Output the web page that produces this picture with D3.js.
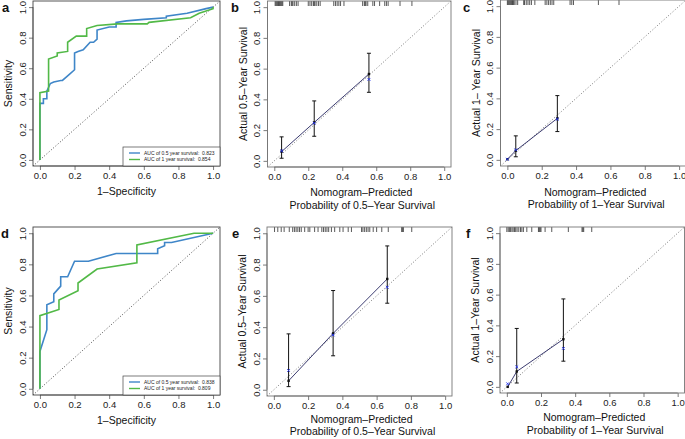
<!DOCTYPE html>
<html><head><meta charset="utf-8">
<script src="https://cdn.jsdelivr.net/npm/d3@7"></script>
<style>
html,body{margin:0;padding:0;background:#fff;}
svg{display:block;font-family:"Liberation Sans",Arial,Helvetica,sans-serif;}
</style></head>
<body>
<svg id="chart" width="685" height="439"></svg>
<script>
// ---------- DATA ----------
const tickValues = [0, 0.2, 0.4, 0.6, 0.8, 1.0];
const tickLabels = ["0.0", "0.2", "0.4", "0.6", "0.8", "1.0"];

// ROC panel a (training)
const rocA_fpr05 = [0,0,0.02,0.02,0.04,0.04,0.06,0.08,0.12,0.13,0.17,0.2,0.2,0.22,0.25,0.29,0.31,0.33,0.33,0.40,0.44,0.44,0.5,0.6,0.73,0.73,0.85,0.96,1];
const rocA_tpr05 = [0,0.37,0.37,0.40,0.40,0.45,0.50,0.51,0.52,0.52,0.56,0.59,0.70,0.71,0.72,0.77,0.77,0.79,0.85,0.87,0.87,0.90,0.91,0.92,0.93,0.94,0.96,0.99,1];
const rocA_fpr1 = [0,0,0.05,0.05,0.1,0.1,0.16,0.16,0.21,0.27,0.27,0.33,0.45,0.62,0.63,0.87,0.92,1,1];
const rocA_tpr1 = [0,0.44,0.45,0.66,0.68,0.70,0.71,0.77,0.81,0.81,0.86,0.88,0.89,0.89,0.90,0.93,0.96,0.99,1];
const aucA = ["0.823", "0.854"];

// ROC panel d (validation)
const rocD_fpr05 = [0,0,0.04,0.04,0.08,0.08,0.12,0.12,0.16,0.2,0.28,0.44,0.68,0.68,0.72,0.72,0.76,1];
const rocD_tpr05 = [0,0.24,0.38,0.54,0.56,0.61,0.66,0.72,0.72,0.82,0.82,0.87,0.87,0.90,0.92,0.94,0.94,1];
const rocD_fpr1 = [0,0,0.11,0.11,0.22,0.22,0.33,0.56,0.56,0.89,1];
const rocD_tpr1 = [0,0.47,0.51,0.57,0.63,0.68,0.77,0.81,0.925,1,1];
const aucD = ["0.838", "0.809"];

const legendLabels = ["AUC of 0.5 year survival:", "AUC of 1 year survival:"];

// Calibration panel b (0.5-year, training)
const calB_pred = [0.043, 0.235, 0.557];
const calB_obs  = [0.06, 0.25, 0.565];
const calB_km   = [0.065, 0.245, 0.53];
const calB_lo   = [0.017, 0.16, 0.446];
const calB_hi   = [0.156, 0.39, 0.70];
const calB_rug  = [0.005,0.01,0.015,0.02,0.025,0.03,0.035,0.04,0.045,0.05,0.09,0.1,0.105,0.11,0.12,0.13,0.14,0.2,0.21,0.22,0.23,0.235,0.24,0.25,0.26,0.27,0.35,0.36,0.37,0.38,0.39,0.41,0.52,0.53,0.535,0.54,0.55,0.58,0.59,0.62,0.65,0.66,0.67,0.74,0.81];

// Calibration panel c (1-year, training)
const calC_pred = [0.0, 0.049, 0.291];
const calC_obs  = [0.004, 0.06, 0.27];
const calC_km   = [0.004, 0.065, 0.265];
const calC_lo   = [null, 0.02, 0.184];
const calC_hi   = [null, 0.156, 0.418];
const calC_rug  = [0.0,0.005,0.01,0.015,0.02,0.025,0.03,0.035,0.04,0.05,0.06,0.095,0.1,0.11,0.12,0.13,0.14,0.16,0.22,0.23,0.24,0.25,0.26,0.27,0.365,0.375,0.385,0.53,0.65];

// Calibration panel e (0.5-year, validation)
const calE_pred = [0.086, 0.346, 0.662];
const calE_obs  = [0.057, 0.36, 0.708];
const calE_km   = [0.123, 0.35, 0.655];
const calE_lo   = [0.02, 0.217, 0.553];
const calE_hi   = [0.357, 0.634, 0.919];
const calE_rug  = [0.004,0.023,0.043,0.06,0.09,0.11,0.12,0.13,0.14,0.15,0.16,0.18,0.2,0.21,0.238,0.258,0.28,0.29,0.3,0.31,0.32,0.336,0.355,0.385,0.404,0.434,0.453,0.512,0.52,0.53,0.54,0.55,0.56,0.58,0.6,0.63,0.668,0.746,0.752,0.756,0.805];

// Calibration panel f (1-year, validation)
const calF_pred = [0.005, 0.058, 0.331];
const calF_obs  = [0.0, 0.1, 0.31];
const calF_km   = [0.02, 0.13, 0.25];
const calF_lo   = [null, 0.025, 0.167];
const calF_hi   = [null, 0.38, 0.572];
const calF_rug  = [0.0,0.008,0.015,0.022,0.03,0.037,0.045,0.052,0.06,0.07,0.08,0.088,0.097,0.117,0.146,0.185,0.19,0.195,0.2,0.224,0.263,0.36,0.44,0.445,0.45,0.497];

const yTitleB = "Actual 0.5\u2013Year Survival";
const yTitleC = "Actual 1\u2013 Year Survival";
const yTitleF = "Actual 1\u2013Year Survival";
const xTitle05 = ["Nomogram\u2013Predicted", "Probability of 0.5\u2013Year Survival"];
const xTitle1 = ["Nomogram\u2013Predicted", "Probability of 1\u2013Year Survival"];

// ---------- LAYOUT ----------
const svg = d3.select("#chart");
const BLUE = "#3f86c8", GREEN = "#52b947";

function makePanel(letter, box, letterPos) {
  const g = svg.append("g");
  const x = d3.scaleLinear().domain([-0.04, 1.04]).range([box.l, box.r]);
  const y = d3.scaleLinear().domain([-0.04, 1.04]).range([box.b, box.t]);
  const xa = g.append("g").attr("transform", `translate(0,${box.b})`)
    .call(d3.axisBottom(x).tickValues(tickValues).tickFormat((d,i)=>tickLabels[i]).tickSize(4));
  const ya = g.append("g").attr("transform", `translate(${box.l},0)`)
    .call(d3.axisLeft(y).tickValues(tickValues).tickFormat((d,i)=>tickLabels[i]).tickSize(4));
  [xa, ya].forEach(a => {
    a.select(".domain").remove();
    a.selectAll("line").attr("stroke", "#444").attr("stroke-width", 0.7);
    a.selectAll("text").attr("font-size", "9.5px").attr("fill", "#222")
      .attr("font-family", "Liberation Sans, Arial, sans-serif");
  });
  xa.selectAll("text").attr("y", 6.5).attr("dy", "0.71em");
  ya.selectAll("text").attr("transform", "rotate(-90)").attr("x", 0).attr("y", -7.5)
    .attr("dy", 0).attr("text-anchor", "middle");
  g.append("line").attr("x1", x(0)).attr("x2", x(1)).attr("y1", box.b).attr("y2", box.b)
    .attr("stroke", "#444").attr("stroke-width", 0.7);
  g.append("line").attr("y1", y(0)).attr("y2", y(1)).attr("x1", box.l).attr("x2", box.l)
    .attr("stroke", "#444").attr("stroke-width", 0.7);
  svg.append("text").attr("x", letterPos[0]).attr("y", letterPos[1]).text(letter)
    .attr("font-weight", "bold").attr("font-size", "13px").attr("fill", "#111");
  const cid = "clip" + letter;
  svg.append("clipPath").attr("id", cid).append("rect")
    .attr("x", box.l).attr("y", box.t).attr("width", box.r - box.l).attr("height", box.b - box.t);
  const plot = g.append("g").attr("clip-path", `url(#${cid})`);
  return {g, x, y, plot, box};
}

function drawBox(p, color) {
  p.g.append("rect").attr("x", p.box.l).attr("y", p.box.t)
    .attr("width", p.box.r - p.box.l).attr("height", p.box.b - p.box.t)
    .attr("fill", "none").attr("stroke", color).attr("stroke-width", 0.9);
}

function diag(p, color) {
  p.plot.append("line").attr("x1", p.x(-0.04)).attr("y1", p.y(-0.04))
    .attr("x2", p.x(1.04)).attr("y2", p.y(1.04))
    .attr("stroke", color).attr("stroke-width", 0.8).attr("stroke-dasharray", "1,2");
}

function yTitle(p, text) {
  const cy = (p.box.t + p.box.b) / 2;
  p.g.append("text").attr("transform", `translate(${p.box.l - 21},${cy}) rotate(-90)`)
    .attr("text-anchor", "middle").attr("font-size", "10.5px").attr("fill", "#111").text(text);
}

function xTitle(p, lines, y0, gap) {
  const cx = (p.x(0) + p.x(1)) / 2 + 2;
  lines.forEach((t, i) => {
    p.g.append("text").attr("x", cx + (i === 1 ? 1 : 0)).attr("y", p.box.b + y0 + i * gap)
      .attr("text-anchor", "middle").attr("font-size", "10.5px").attr("fill", "#111").text(t);
  });
}

function rocPanel(letter, box, letterPos, fpr05, tpr05, fpr1, tpr1, auc) {
  const p = makePanel(letter, box, letterPos);
  diag(p, "#222");
  const line = d3.line().x(d => p.x(d[0])).y(d => p.y(d[1]));
  p.plot.append("path").datum(fpr05.map((f, i) => [f, tpr05[i]])).attr("d", line)
    .attr("fill", "none").attr("stroke", BLUE).attr("stroke-width", 1.6);
  p.plot.append("path").datum(fpr1.map((f, i) => [f, tpr1[i]])).attr("d", line)
    .attr("fill", "none").attr("stroke", GREEN).attr("stroke-width", 1.6);
  drawBox(p, "#444");
  const lw = 97, lh = 19;
  const lx = box.r - lw, ly = box.b - lh;
  p.g.append("rect").attr("x", lx).attr("y", ly).attr("width", lw).attr("height", lh)
    .attr("fill", "#fff").attr("stroke", "#444").attr("stroke-width", 0.7);
  [BLUE, GREEN].forEach((c, i) => {
    const yy = ly + 6 + i * 6.5;
    p.g.append("line").attr("x1", lx + 6).attr("x2", lx + 17).attr("y1", yy).attr("y2", yy)
      .attr("stroke", c).attr("stroke-width", 1.4);
    p.g.append("text").attr("x", lx + 21).attr("y", yy + 1.8).attr("font-size", "5px")
      .attr("fill", "#222").attr("xml:space", "preserve")
      .text(legendLabels[i] + "  " + auc[i]);
  });
  yTitle(p, "Sensitivity");
  p.g.append("text").attr("x", (p.x(0) + p.x(1)) / 2).attr("y", box.b + 29)
    .attr("text-anchor", "middle").attr("font-size", "10.5px").attr("fill", "#111").text("1\u2013Specificity");
}

function calPanel(letter, box, letterPos, pred, obs, km, lo, hi, rug, yt, xt, ty0, tgap) {
  const p = makePanel(letter, box, letterPos);
  diag(p, "#555");
  p.plot.selectAll(".rug").data(rug).enter().append("line")
    .attr("x1", d => p.x(d)).attr("x2", d => p.x(d))
    .attr("y1", box.t).attr("y2", box.t + 5)
    .attr("stroke", "#111").attr("stroke-width", 0.7);
  const pts = pred.map((v, i) => [v, obs[i]]);
  p.plot.append("path").datum(pts)
    .attr("d", d3.line().x(d => p.x(d[0])).y(d => p.y(d[1])))
    .attr("fill", "none").attr("stroke", "#262660").attr("stroke-width", 0.9);
  pred.forEach((v, i) => {
    if (lo[i] == null) return;
    const xx = p.x(v);
    p.plot.append("line").attr("x1", xx).attr("x2", xx).attr("y1", p.y(lo[i])).attr("y2", p.y(hi[i]))
      .attr("stroke", "#111").attr("stroke-width", 1);
    [lo[i], hi[i]].forEach(e => {
      p.plot.append("line").attr("x1", xx - 2).attr("x2", xx + 2).attr("y1", p.y(e)).attr("y2", p.y(e))
        .attr("stroke", "#111").attr("stroke-width", 1);
    });
  });
  p.plot.selectAll(".pt").data(pts).enter().append("rect")
    .attr("x", d => p.x(d[0]) - 1.2).attr("y", d => p.y(d[1]) - 1.2)
    .attr("width", 2.4).attr("height", 2.4).attr("fill", "#111");
  pred.forEach((v, i) => {
    const xx = p.x(v), yy = p.y(km[i]), s = 1.4;
    p.plot.append("path").attr("d", `M${xx-s},${yy-s}L${xx+s},${yy+s}M${xx-s},${yy+s}L${xx+s},${yy-s}`)
      .attr("stroke", "#2233ee").attr("stroke-width", 0.9).attr("fill", "none");
  });
  drawBox(p, "#777");
  yTitle(p, yt);
  xTitle(p, xt, ty0, tgap);
}

rocPanel("a", {l: 33, r: 220, t: 1, b: 166}, [2, 12], rocA_fpr05, rocA_tpr05, rocA_fpr1, rocA_tpr1, aucA);
rocPanel("d", {l: 33, r: 220, t: 227, b: 395}, [1, 238], rocD_fpr05, rocD_tpr05, rocD_fpr1, rocD_tpr1, aucD);
calPanel("b", {l: 267.5, r: 451, t: 1, b: 167}, [231, 12], calB_pred, calB_obs, calB_km, calB_lo, calB_hi, calB_rug, yTitleB, xTitle05, 29, 13);
calPanel("c", {l: 500.5, r: 686, t: 0, b: 166}, [463, 12], calC_pred, calC_obs, calC_km, calC_lo, calC_hi, calC_rug, yTitleC, xTitle1, 30, 12);
calPanel("e", {l: 267, r: 452, t: 227, b: 396}, [232, 238], calE_pred, calE_obs, calE_km, calE_lo, calE_hi, calE_rug, yTitleB, xTitle05, 27, 12);
calPanel("f", {l: 500, r: 684.5, t: 227, b: 393}, [466, 238], calF_pred, calF_obs, calF_km, calF_lo, calF_hi, calF_rug, yTitleF, xTitle1, 28, 13);
</script>
</body></html>
